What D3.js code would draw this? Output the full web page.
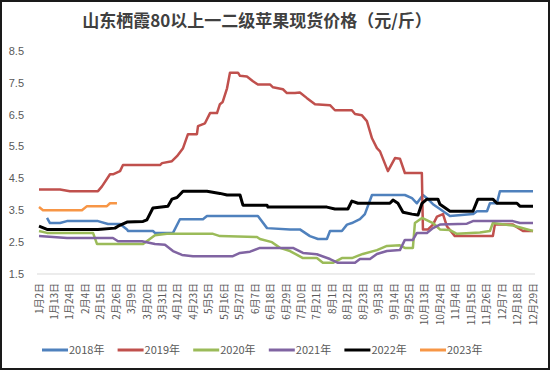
<!DOCTYPE html>
<html>
<head>
<meta charset="utf-8">
<script src="https://cdn.jsdelivr.net/npm/d3@7/dist/d3.min.js"></script>
<style>
  body { margin: 0; background: #fff; }
  svg { display: block; }
</style>
</head>
<body>
<svg id="chart" width="550" height="370"></svg>
<script>
// date labels along the category axis (one every 11th data point)
const dateLabels = ['1月2日', '1月13日', '1月24日', '2月4日', '2月15日', '2月26日', '3月9日',
  '3月20日', '3月31日', '4月12日', '4月23日', '5月5日', '5月16日', '5月27日', '6月7日',
  '6月18日', '6月29日', '7月10日', '7月21日', '8月1日', '8月12日', '8月23日', '9月3日',
  '9月14日', '9月25日', '10月13日', '10月24日', '11月4日', '11月15日', '11月26日',
  '12月7日', '12月18日', '12月29日'];

const yTicks = [1.5, 2.5, 3.5, 4.5, 5.5, 6.5, 7.5, 8.5];

// series: [position along label axis, price]
const s2018 = [[0.52,3.26],[0.71,3.1],[1.36,3.1],[1.81,3.16],[3.82,3.16],[4.47,3.07],[5.25,3.07],
  [5.7,2.9],[5.76,2.85],[7.38,2.85],[7.51,2.79],[8.68,2.79],[9.13,3.22],[10.62,3.22],[10.88,3.32],
  [14.18,3.32],[14.77,2.94],[16.26,2.9],[16.9,2.9],[17.55,2.69],[18.07,2.6],[18.65,2.6],[18.85,2.85],
  [19.62,2.85],[19.95,3.05],[20.27,3.1],[20.79,3.22],[21.11,3.38],[21.57,3.98],[23.7,3.98],
  [24.16,3.88],[24.48,3.72],[24.87,3.98],[25.13,3.88],[25.52,3.69],[25.97,3.54],[26.62,3.32],
  [28.11,3.38],[28.37,3.47],[29.02,3.47],[29.21,3.72],[29.66,3.72],[29.86,4.1],[32,4.1]];

const s2019 = [[0,4.15],[1.36,4.15],[2.0,4.1],[3.82,4.1],[4.08,4.25],[4.6,4.63],[4.79,4.63],
  [5.25,4.73],[5.44,4.92],[7.84,4.92],[7.97,4.98],[8.61,5.04],[8.94,5.2],[9.33,5.45],[9.65,5.89],
  [10.23,5.89],[10.3,6.14],[10.75,6.23],[11.08,6.55],[11.53,6.55],[11.72,6.83],[11.9,6.9],
  [12.18,7.33],[12.37,7.82],[12.89,7.82],[13.02,7.72],[13.47,7.7],[13.86,7.55],[14.18,7.45],
  [14.96,7.45],[15.16,7.36],[15.8,7.3],[16.06,7.18],[16.58,7.18],[16.9,7.2],[17.36,7.02],
  [17.88,6.83],[18.85,6.8],[19.17,6.64],[20.27,6.64],[20.47,6.52],[20.92,6.48],[21.24,6.3],
  [21.57,5.76],[21.89,5.45],[22.09,5.35],[22.6,4.73],[23.06,5.14],[23.38,5.12],[23.7,4.67],
  [24.8,4.67],[24.87,2.9],[25.2,2.9],[25.52,3.05],[25.78,3.3],[26.17,3.38],[26.42,3.0],
  [26.94,2.69],[29.4,2.69],[29.53,3.05],[30.7,3.05],[31.35,2.85],[32,2.85]];

const s2020 = [[0,2.85],[0.52,2.79],[3.5,2.79],[3.76,2.44],[6.74,2.44],[7.51,2.72],[8.29,2.76],
  [11.27,2.76],[11.72,2.69],[14.12,2.66],[14.31,2.6],[15.09,2.5],[15.61,2.32],[16.26,2.22],
  [17.1,2.0],[18.0,2.0],[18.39,1.85],[19.04,1.85],[19.62,2.0],[20.27,2.0],[20.98,2.13],
  [21.89,2.25],[22.54,2.38],[23.38,2.4],[23.7,2.32],[24.22,2.32],[24.35,3.1],[24.81,3.26],
  [25.52,3.1],[25.97,2.9],[26.62,2.88],[27.07,2.76],[28.56,2.8],[29.21,2.85],[29.4,3.1],
  [30.7,3.02],[32,2.85]];

const s2021 = [[0,2.69],[1.81,2.63],[4.79,2.63],[5.12,2.53],[6.67,2.53],[7.51,2.44],[8.16,2.42],
  [8.68,2.22],[9.26,2.1],[9.97,2.06],[12.56,2.06],[13.02,2.16],[13.67,2.2],[14.31,2.32],
  [16.45,2.32],[17.1,2.16],[18.0,2.12],[18.85,1.97],[19.37,1.85],[20.47,1.85],[20.79,1.97],
  [21.44,1.97],[21.89,2.13],[22.54,2.22],[23.38,2.25],[23.7,2.57],[24.22,2.57],[24.48,2.79],
  [25.13,2.79],[25.52,2.94],[25.97,3.05],[27.72,3.08],[28.11,3.16],[30.7,3.16],[31.15,3.1],
  [32,3.1]];

const s2022 = [[0,3.0],[0.52,2.9],[3.82,2.9],[4.92,2.94],[5.12,3.0],[5.7,3.13],[6.74,3.15],
  [6.99,3.2],[7.38,3.57],[8.35,3.63],[8.61,3.85],[8.94,3.9],[9.33,4.1],[10.88,4.1],[11.72,4.03],
  [12.18,3.98],[13.02,3.98],[13.21,3.66],[14.77,3.66],[14.83,3.6],[18.65,3.6],[19.17,3.54],
  [20.01,3.54],[20.27,3.79],[20.66,3.72],[22.73,3.72],[22.93,3.82],[23.25,3.72],[23.58,3.44],
  [24.16,3.38],[24.55,3.35],[24.81,3.72],[25.13,3.85],[25.84,3.85],[25.97,3.69],[26.62,3.47],
  [28.11,3.47],[28.43,3.85],[29.4,3.85],[29.66,3.72],[30.96,3.72],[31.15,3.63],[32,3.63]];

const s2023 = [[0,3.6],[0.26,3.5],[2.78,3.5],[3.11,3.63],[4.4,3.63],[4.6,3.72],[5.05,3.72]];

const seriesNames = ['2018年', '2019年', '2020年', '2021年', '2022年', '2023年'];
const seriesData = [s2018, s2019, s2020, s2021, s2022, s2023];
const seriesColors = ['#4f81bd', '#c0504d', '#9bbb59', '#8064a2', '#000000', '#f79646'];

const svg = d3.select('#chart');
const W = 550, H = 370;

// frame
svg.append('rect')
  .attr('x', 1).attr('y', 1)
  .attr('width', W - 2).attr('height', H - 2)
  .attr('fill', '#fff')
  .attr('stroke', '#1a1a1a')
  .attr('stroke-width', 2);

// title
svg.append('text')
  .attr('x', 257).attr('y', 27)
  .attr('text-anchor', 'middle')
  .attr('font-family', '"Noto Sans CJK SC", sans-serif')
  .attr('font-weight', 'bold')
  .attr('font-size', 17)
  .attr('fill', '#404040')
  .text('山东栖霞80以上一二级苹果现货价格（元/斤）');

const x = d3.scaleLinear().domain([0, dateLabels.length - 1]).range([39, 533]);
const y = d3.scaleLinear().domain([1.5, 8.5]).range([274, 51]);

// y tick labels (no axis line)
svg.append('g')
  .selectAll('text')
  .data(yTicks)
  .join('text')
  .attr('x', 24)
  .attr('y', d => y(d))
  .attr('dy', '0.35em')
  .attr('text-anchor', 'end')
  .attr('font-family', '"Liberation Sans", Arial, sans-serif')
  .attr('font-size', 11)
  .attr('fill', '#595959')
  .text(d => d.toFixed(1));

// category axis line
svg.append('line')
  .attr('x1', 37).attr('x2', 535)
  .attr('y1', y(1.5)).attr('y2', y(1.5))
  .attr('stroke', '#d9d9d9')
  .attr('stroke-width', 1);

// rotated date labels
svg.append('g')
  .selectAll('text')
  .data(dateLabels)
  .join('text')
  .attr('transform', (d, i) => `translate(${x(i) + 3.5},${283}) rotate(-90)`)
  .attr('text-anchor', 'end')
  .attr('font-family', '"Noto Sans CJK SC", sans-serif')
  .attr('font-size', 10)
  .attr('fill', '#595959')
  .text(d => d);

// lines
const line = d3.line()
  .x(d => x(d[0]))
  .y(d => y(d[1]));

svg.append('g')
  .selectAll('path')
  .data(seriesData)
  .join('path')
  .attr('d', line)
  .attr('fill', 'none')
  .attr('stroke', (d, i) => seriesColors[i])
  .attr('stroke-width', (d, i) => i === 4 ? 3 : 2.5)
  .attr('stroke-linejoin', 'round');

// legend
const legend = svg.append('g')
  .selectAll('g')
  .data(seriesNames)
  .join('g')
  .attr('transform', (d, i) => `translate(${42 + i * 75.6},350)`);

legend.append('line')
  .attr('x1', 0).attr('x2', 26)
  .attr('stroke', (d, i) => seriesColors[i])
  .attr('stroke-width', 3);

legend.append('text')
  .attr('x', 27)
  .attr('dy', '0.35em')
  .attr('font-family', '"Noto Sans CJK SC", sans-serif')
  .attr('font-size', 11)
  .attr('fill', '#595959')
  .text(d => d);
</script>
</body>
</html>
